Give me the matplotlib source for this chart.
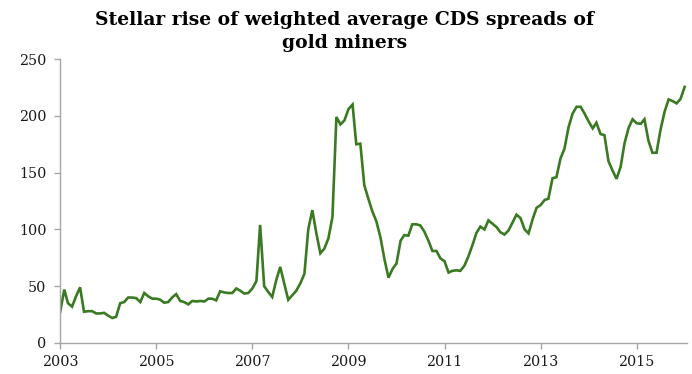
#!/usr/bin/env python
"""
Stellar rise of weighted average CDS spreads of gold miners
monthly series, Jan 2003 - Jan 2016
"""
import numpy as np
import pandas as pd
import matplotlib
matplotlib.use('Agg')
import matplotlib.pyplot as plt

# Weighted average CDS spread (bp), monthly from Jan 2003
spreads = [
    27.5, 47, 35, 32, 41, 49, 27.5, 28, 28, 26, 26, 26.5,          # 2003
    24, 22, 23, 35, 36, 40, 40, 39.5, 36, 44, 41, 39,               # 2004
    39, 38, 35.5, 36, 40, 43, 37, 36, 34, 37, 36.5, 37,             # 2005
    36.5, 39, 39, 37.5, 45.5, 44.5, 44, 44, 48, 46, 43.5, 44,       # 2006
    48, 54.5, 104, 50, 45, 40.5, 55, 67, 52, 38, 42, 46,            # 2007
    52.5, 61, 100, 117, 97, 79, 83, 92, 111, 199, 192.5, 196,       # 2008
    206, 210, 175, 175.5, 139, 127, 116, 107, 93, 74, 57.5, 65,     # 2009
    70, 90, 95, 94.5, 104.5, 104.5, 103.5, 98, 90, 81, 81, 74.5,    # 2010
    72, 62, 63.5, 64, 63.5, 68, 76, 86, 97, 102.5, 100, 108,        # 2011
    105, 102, 97.5, 95.5, 99, 106, 113, 110, 100, 96.5, 109, 119,   # 2012
    121.5, 126, 127, 145, 146, 162.5, 171, 190, 202, 208, 208, 202, # 2013
    195, 189, 194, 184, 183, 160, 152, 144.5, 155, 176, 189.5, 197, # 2014
    193.5, 193, 197, 178, 167.5, 167.5, 187.5, 203.5, 214.5, 213, 211, 215,  # 2015
    225.5,                                                          # 2016
]
dates = pd.date_range('2003-01-01', periods=len(spreads), freq='MS')

year_ticks = [2003, 2005, 2007, 2009, 2011, 2013, 2015]
y_ticks = [0, 50, 100, 150, 200, 250]

title = 'Stellar rise of weighted average CDS spreads of\ngold miners'

line_col = '#3a7a22'
axis_col = '#a6a6a6'

plt.rcParams['font.family'] = ['DejaVu Serif']

fig = plt.figure(figsize=(6.92, 3.74), dpi=100)
ax = fig.add_axes([0.087, 0.083, 0.906, 0.759])

ax.plot(dates, spreads, color=line_col, lw=1.9, solid_joinstyle='miter')

ax.set_xlim(pd.Timestamp('2003-01-01'), pd.Timestamp('2016-01-20'))
ax.set_ylim(0, 250)
ax.set_xticks([pd.Timestamp(f'{y}-01-01') for y in year_ticks])
ax.set_xticklabels([str(y) for y in year_ticks])
ax.set_yticks(y_ticks)

for side in ['top', 'right']:
    ax.spines[side].set_visible(False)
for side in ['left', 'bottom']:
    ax.spines[side].set_color(axis_col)
    ax.spines[side].set_linewidth(1.0)

ax.tick_params(axis='both', colors=axis_col, labelcolor='#1a1a1a',
               labelsize=10.3, length=4, width=1.0)
ax.tick_params(axis='x', pad=5)
ax.tick_params(axis='y', pad=6)

fig.text(0.498, 1 - 11/374, title, ha='center', va='top', fontsize=13.5,
         fontweight='bold', linespacing=1.35)

plt.savefig('out.png', dpi=100)
